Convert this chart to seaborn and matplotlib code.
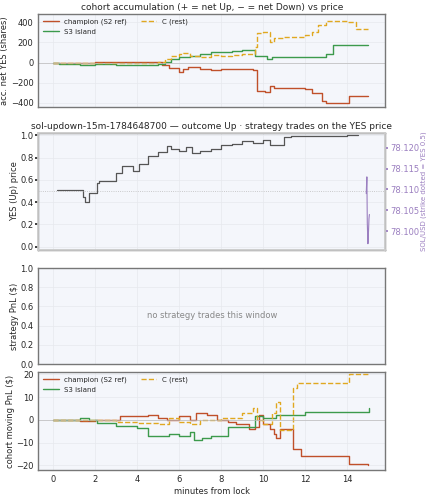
import matplotlib
matplotlib.use("Agg")
import matplotlib.pyplot as plt
import seaborn as sns
import pandas as pd

sns.set_theme(style="whitegrid")
plt.rcParams['font.family'] = ['DejaVu Sans']

# accumulation (shares)
champ_acc_t = [0, 2, 5.2, 5.5, 6.0, 6.2, 6.4, 7.0, 7.5, 8.0, 9.5, 9.7, 10.1, 10.3, 10.5, 12.0, 12.3, 12.8, 13.0, 14.1, 15.0]
champ_acc_v = [0, 10, -20, -50, -90, -60, -40, -60, -70, -60, -70, -280, -290, -230, -250, -260, -300, -380, -400, -330, -330]
s3_acc_t = [0, 0.3, 1.3, 2.0, 3.0, 5.0, 5.3, 5.6, 6.0, 6.5, 7.0, 7.5, 8.0, 8.5, 9.0, 9.6, 10.2, 10.4, 11.0, 13.0, 13.3, 15.0]
s3_acc_v = [0, -10, -20, -15, -25, -15, 10, 30, 55, 65, 80, 100, 105, 110, 120, 65, 30, 55, 50, 80, 170, 170]
c_acc_t = [0, 5.0, 5.3, 5.6, 6.0, 6.2, 6.5, 7.0, 7.5, 8.0, 8.5, 9.0, 9.6, 9.7, 10.0, 10.3, 10.5, 11.0, 12.0, 12.3, 12.6, 13.0, 14.0, 14.4, 15.0]
c_acc_v = [0, 10, 30, 60, 80, 90, 65, 55, 70, 60, 70, 80, 150, 290, 300, 200, 240, 250, 270, 300, 370, 410, 400, 330, 330]

# YES price
yes_t = [0.2, 1.4, 1.5, 1.7, 2.1, 2.2, 3.0, 3.3, 3.8, 4.1, 4.5, 5.0, 5.4, 5.6, 6.0, 6.3, 6.6, 7.0, 7.5, 8.0, 8.5, 9.0, 9.5, 10.0, 10.3, 11.0, 11.3, 14.0, 14.5]
yes_v = [0.51, 0.45, 0.40, 0.48, 0.57, 0.59, 0.66, 0.72, 0.68, 0.74, 0.81, 0.85, 0.90, 0.88, 0.86, 0.89, 0.84, 0.86, 0.88, 0.91, 0.92, 0.95, 0.93, 0.96, 0.91, 0.98, 0.99, 1.00, 1.00]
sol_t = [14.90, 14.93, 14.95, 14.98, 15.00, 15.03, 15.05]
sol_v = [78.109, 78.113, 78.102, 78.097, 78.099, 78.103, 78.104]

# moving PnL ($)
champ_pnl_t = [0, 1.3, 2.0, 3.2, 4.5, 5.0, 5.4, 6.0, 6.5, 6.8, 7.3, 7.8, 8.3, 8.7, 9.3, 9.6, 9.8, 10.0, 10.3, 10.5, 10.6, 10.8, 11.4, 11.8, 14.1, 15.0]
champ_pnl_v = [0, -0.5, 0, 1.5, 2, 1, 0, 1.5, 0, 3, 2, 0, -1, -2, -4, -3, 2, -2, -4, -6, -8, -4, -13, -16, -19.5, -20]
s3_pnl_t = [0, 1.3, 1.7, 2.1, 3.0, 4.0, 4.5, 5.5, 6.0, 6.5, 6.7, 7.1, 7.5, 8.3, 9.5, 9.6, 10.0, 10.6, 12.0, 15.0, 15.05]
s3_pnl_v = [0, 1, 0, -1.5, -2.5, -3.5, -7, -6, -7, -5.5, -9, -8, -7, -3, -3, 1.5, 1, 2, 3.5, 3.5, 5]
c_pnl_t = [0, 3.0, 4.0, 5.0, 5.5, 6.0, 6.5, 7.0, 8.0, 9.0, 9.5, 9.7, 10.0, 10.4, 10.6, 10.8, 11.4, 11.6, 14.1, 15.0]
c_pnl_v = [0, -1, -1.5, -2, 1, -1, -2, 0, 1, 3, 5, 0, -2, 3, 8, -4.5, 14, 16, 20, 20]

RED, GREEN, YEL, PURP = "#c0502a", "#3c9a4c", "#e0a820", "#9b7fc0"
BG = "#f4f6fb"

fig = plt.figure(figsize=(4.27, 5.0), dpi=100)
L, W = 0.09, 0.812
ax1 = fig.add_axes([L, 0.786, W, 0.186])
ax2 = fig.add_axes([L, 0.500, W, 0.234])
ax3 = fig.add_axes([L, 0.272, W, 0.192])
ax4 = fig.add_axes([L, 0.060, W, 0.196])

def style(ax):
    ax.set_facecolor(BG)
    ax.tick_params(labelsize=6, length=2, pad=1.5)
    for s in ax.spines.values():
        s.set_color("#777777"); s.set_linewidth(1.0)
    ax.grid(color="#e6e8ee", linewidth=0.5)
    ax.set_xlim(-0.7, 15.8)
    ax.set_xticks(range(0, 16, 2))

def step(ax, t, v, color, label, ls="-", lw=1.0):
    df = pd.DataFrame({"t": t, "v": v})
    sns.lineplot(data=df, x="t", y="v", ax=ax, drawstyle="steps-post", color=color, label=label, linestyle=ls, linewidth=lw)

for ax in (ax1, ax2, ax3, ax4):
    style(ax)

step(ax1, champ_acc_t, champ_acc_v, RED, "champion (S2 ref)")
step(ax1, s3_acc_t, s3_acc_v, GREEN, "S3 island")
step(ax1, c_acc_t, c_acc_v, YEL, "C (rest)", ls="--")
ax1.axhline(0, color="#bbbbbb", lw=0.5)
ax1.set_ylim(-440, 480)
ax1.set_yticks([-400, -200, 0, 200, 400])
ax1.set_title("cohort accumulation (+ = net Up, − = net Down) vs price", fontsize=6.5, pad=3)
ax1.set_ylabel("acc. net YES (shares)", fontsize=6, labelpad=1)
ax1.set_xlabel("")
ax1.set_xticklabels([])
ax1.legend(fontsize=5, ncol=2, loc="upper left", frameon=False, handlelength=2.2, borderaxespad=0.3)

step(ax2, yes_t, yes_v, "#555555", None, lw=0.9)
ax2.axhline(0.5, color="#bbbbbb", lw=0.6, ls=":")
ax2.set_ylim(-0.03, 1.02)
ax2.set_title("sol-updown-15m-1784648700 — outcome Up · strategy trades on the YES price", fontsize=6.5, pad=3)
ax2.set_ylabel("YES (Up) price", fontsize=6, labelpad=1)
ax2.set_xlabel("")
ax2.set_xticklabels([])
tw = ax2.twinx()
tw.plot(sol_t, sol_v, color=PURP, lw=0.8)
tw.set_ylim(78.0955, 78.1235)
tw.set_yticks([78.100, 78.105, 78.110, 78.115, 78.120])
tw.set_yticklabels(["78.100", "78.105", "78.110", "78.115", "78.120"])
tw.tick_params(labelsize=6, colors=PURP, length=2, pad=1.5)
tw.set_ylabel("SOL/USD (strike dotted = YES 0.5)", fontsize=5, color=PURP, labelpad=1)
tw.grid(False)

ax3.set_ylim(0, 1)
ax3.set_yticks([0, 0.2, 0.4, 0.6, 0.8, 1.0])
ax3.set_ylabel("strategy PnL ($)", fontsize=6, labelpad=1)
ax3.set_xticklabels([])
ax3.text(0.5, 0.5, "no strategy trades this window", transform=ax3.transAxes, ha="center", va="center", fontsize=6, color="#888888")

step(ax4, champ_pnl_t, champ_pnl_v, RED, "champion (S2 ref)")
step(ax4, s3_pnl_t, s3_pnl_v, GREEN, "S3 island")
step(ax4, c_pnl_t, c_pnl_v, YEL, "C (rest)", ls="--")
ax4.axhline(0, color="#bbbbbb", lw=0.5)
ax4.set_ylim(-22, 21)
ax4.set_yticks([-20, -10, 0, 10, 20])
ax4.set_ylabel("cohort moving PnL ($)", fontsize=6, labelpad=1)
ax4.set_xlabel("minutes from lock", fontsize=6, labelpad=2)
ax4.legend(fontsize=5, ncol=2, loc="upper left", frameon=False, handlelength=2.2, borderaxespad=0.3)

fig.savefig("out.png", dpi=100)
